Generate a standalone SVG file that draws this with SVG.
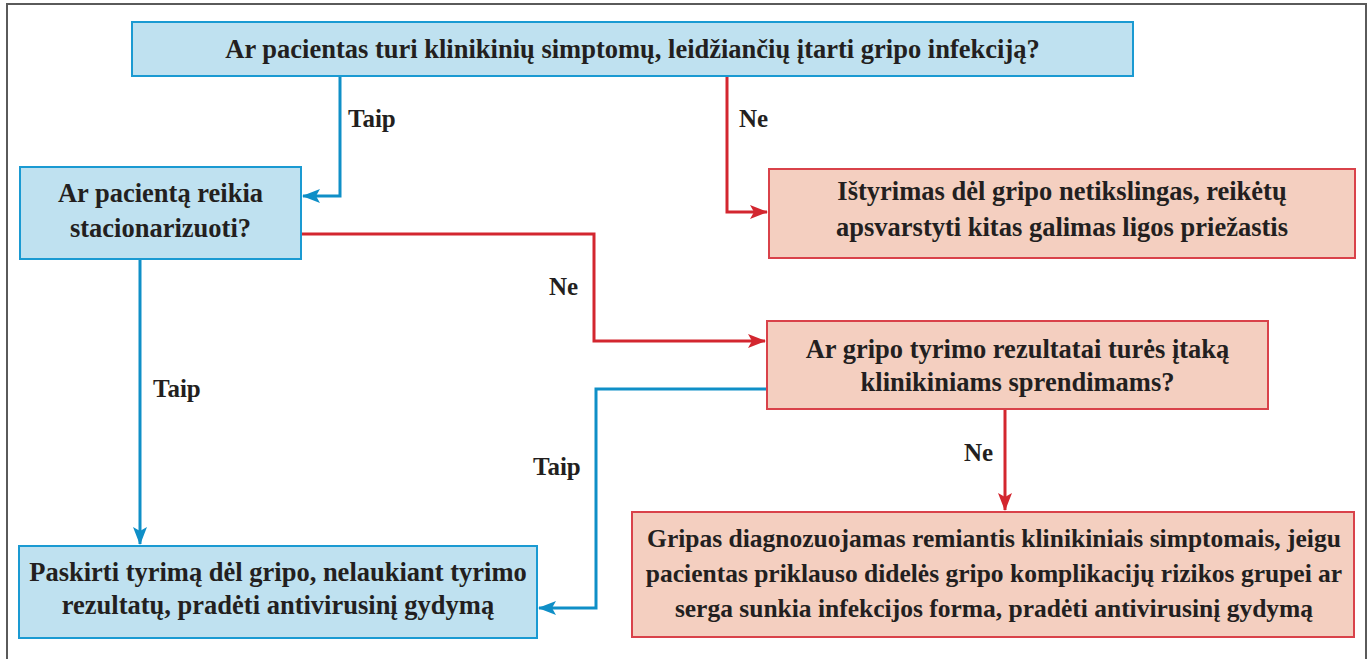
<svg xmlns="http://www.w3.org/2000/svg" width="1370" height="659" viewBox="0 0 1370 659">
<defs>
<style>
.frame{fill:none;stroke:#5a5a5a;stroke-width:2}
.bbox{fill:#bfe1f0;stroke:#1a9ad2;stroke-width:2}
.rbox{fill:#f4cfc0;stroke:#d9424a;stroke-width:2}
.t{font-family:'Liberation Serif','DejaVu Serif',serif;font-weight:700;font-size:26.5px;fill:#231f20;text-anchor:middle}
.s{font-size:25.5px}
.lbl{font-family:'Liberation Serif','DejaVu Serif',serif;font-weight:700;font-size:25px;fill:#231f20}
.cb{fill:none;stroke:#0f8fc7;stroke-width:3}
.cr{fill:none;stroke:#d3262f;stroke-width:3}
</style>
<marker id="ab" viewBox="0 0 18 14" refX="17" refY="7" markerWidth="18" markerHeight="14" markerUnits="userSpaceOnUse" orient="auto">
<path d="M0,0 L18,7 L0,14 L4,7 Z" fill="#0f8fc7"/>
</marker>
<marker id="ar" viewBox="0 0 18 14" refX="17" refY="7" markerWidth="18" markerHeight="14" markerUnits="userSpaceOnUse" orient="auto">
<path d="M0,0 L18,7 L0,14 L4,7 Z" fill="#d3262f"/>
</marker>
</defs>
<rect x="0" y="0" width="1370" height="659" fill="#ffffff"/>
<rect class="frame" x="7" y="4" width="1359" height="670"/>

<g id="connectors">
<path class="cb" d="M340,76 V196 H303" marker-end="url(#ab)"/>
<path class="cr" d="M727,76 V212 H767" marker-end="url(#ar)"/>
<path class="cr" d="M301,234 H594 V341 H765" marker-end="url(#ar)"/>
<path class="cb" d="M140,259 V544" marker-end="url(#ab)"/>
<path class="cb" d="M767,389 H596 V608 H539" marker-end="url(#ab)"/>
<path class="cr" d="M1005,409 V510" marker-end="url(#ar)"/>
<text class="lbl" x="348" y="127">Taip</text>
<text class="lbl" x="739" y="127">Ne</text>
<text class="lbl" x="549" y="295">Ne</text>
<text class="lbl" x="153" y="397">Taip</text>
<text class="lbl" x="533" y="475">Taip</text>
<text class="lbl" x="964" y="461">Ne</text>
</g>

<g id="n1">
<rect class="bbox" x="132" y="22" width="1001" height="54"/>
<text class="t" x="632.5" y="58">Ar pacientas turi klinikinių simptomų, leidžiančių įtarti gripo infekciją?</text>
</g>

<g id="n2">
<rect class="bbox" x="20" y="167" width="281" height="92"/>
<text class="t" x="160.5" y="202">Ar pacientą reikia</text>
<text class="t" x="160.5" y="237">stacionarizuoti?</text>
</g>

<g id="n3">
<rect class="rbox" x="769" y="169" width="586" height="89"/>
<text class="t" x="1062" y="200">Ištyrimas dėl gripo netikslingas, reikėtų</text>
<text class="t" x="1062" y="236">apsvarstyti kitas galimas ligos priežastis</text>
</g>

<g id="n4">
<rect class="rbox" x="767" y="321" width="501" height="88"/>
<text class="t" x="1017.5" y="358">Ar gripo tyrimo rezultatai turės įtaką</text>
<text class="t" x="1017.5" y="391">klinikiniams sprendimams?</text>
</g>

<g id="n5">
<rect class="bbox" x="19" y="546" width="518" height="92"/>
<text class="t" x="278" y="581">Paskirti tyrimą dėl gripo, nelaukiant tyrimo</text>
<text class="t" x="278" y="614">rezultatų, pradėti antivirusinį gydymą</text>
</g>

<g id="n6">
<rect class="rbox" x="632" y="512" width="722" height="125"/>
<text class="t s" x="994" y="547">Gripas diagnozuojamas remiantis klinikiniais simptomais, jeigu</text>
<text class="t s" x="994" y="582">pacientas priklauso didelės gripo komplikacijų rizikos grupei ar</text>
<text class="t s" x="994" y="617">serga sunkia infekcijos forma, pradėti antivirusinį gydymą</text>
</g>
</svg>
